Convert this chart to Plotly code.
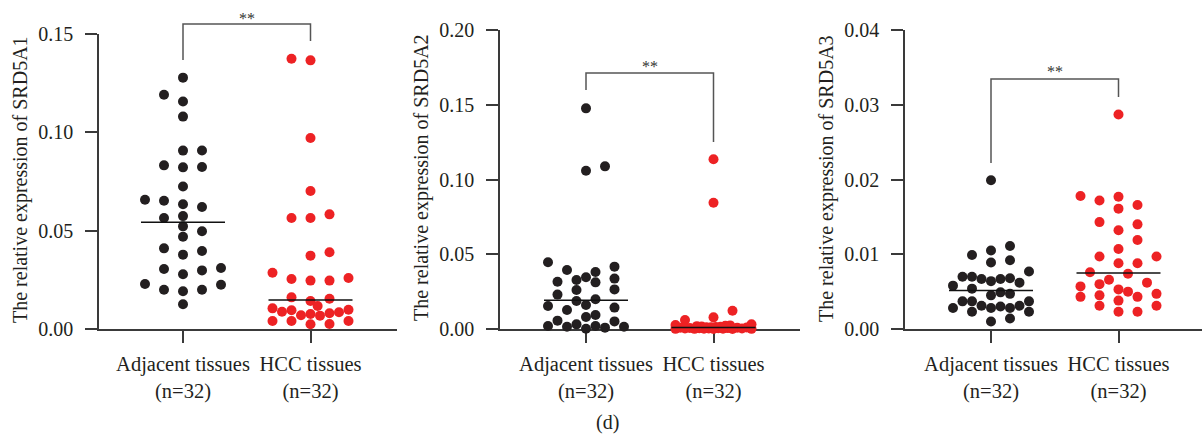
import numpy as np
import plotly.graph_objects as go

# ---------------- data ----------------
categories = ["Adjacent tissues<br>(n=32)", "HCC tissues<br>(n=32)"]
genes = ["SRD5A1", "SRD5A2", "SRD5A3"]
y_max = [0.15, 0.20, 0.04]
y_dtick = [0.05, 0.05, 0.01]
significance = ["**", "**", "**"]

srd5a1_adjacent = [0.1278, 0.1191, 0.1157, 0.1080, 0.0908, 0.0907, 0.0824, 0.0832,
                   0.0822, 0.0725, 0.0652, 0.0634, 0.0620, 0.0657, 0.0574, 0.0564,
                   0.0522, 0.0497, 0.0469, 0.0397, 0.0410, 0.0378, 0.0298, 0.0305,
                   0.0278, 0.0310, 0.0225, 0.0200, 0.0192, 0.0200, 0.0229, 0.0126]
srd5a1_hcc = [0.1374, 0.1366, 0.0971, 0.0702, 0.0583, 0.0564, 0.0564, 0.0373,
              0.0390, 0.0286, 0.0254, 0.0246, 0.0246, 0.0259, 0.0142, 0.0154,
              0.0161, 0.0080, 0.0088, 0.0076, 0.0098, 0.0117, 0.0095, 0.0085,
              0.0105, 0.0068, 0.0070, 0.0041, 0.0041, 0.0024, 0.0041, 0.0025]

srd5a2_adjacent = [0.1476, 0.1088, 0.1059, 0.0446, 0.0381, 0.0395, 0.0417, 0.0316,
                   0.0312, 0.0337, 0.0328, 0.0346, 0.0265, 0.0261, 0.0230, 0.0199,
                   0.0187, 0.0143, 0.0160, 0.0127, 0.0154, 0.0094, 0.0080, 0.0056,
                   0.0051, 0.0015, 0.0020, 0.0002, 0.0031, 0.0015, 0.0020, 0.0009]
srd5a2_hcc = [0.1135, 0.0845, 0.0122, 0.0078, 0.0060, 0.0031, 0.0027, 0.0024,
              0.0021, 0.0019, 0.0017, 0.0015, 0.0014, 0.0012, 0.0011, 0.0010,
              0.0009, 0.0008, 0.0007, 0.0006, 0.0005, 0.0005, 0.0004, 0.0003,
              0.0003, 0.0002, 0.0002, 0.0001, 0.0001, 0.0001, 0.0000, 0.0000]

srd5a3_adjacent = [0.0199, 0.0111, 0.0105, 0.0099, 0.0089, 0.0092, 0.0077, 0.0070,
                   0.0067, 0.0067, 0.0064, 0.0068, 0.0070, 0.0058, 0.0062, 0.0054,
                   0.0045, 0.0047, 0.0049, 0.0037, 0.0037, 0.0037, 0.0031, 0.0028,
                   0.0028, 0.0030, 0.0031, 0.0028, 0.0023, 0.0023, 0.0014, 0.0010]
srd5a3_hcc = [0.0287, 0.0178, 0.0166, 0.0177, 0.0172, 0.0161, 0.0140, 0.0143,
              0.0132, 0.0119, 0.0107, 0.0097, 0.0088, 0.0088, 0.0097, 0.0074,
              0.0076, 0.0060, 0.0062, 0.0057, 0.0066, 0.0047, 0.0053, 0.0045,
              0.0043, 0.0043, 0.0050, 0.0038, 0.0031, 0.0031, 0.0023, 0.0023]

series = [(srd5a1_adjacent, srd5a1_hcc), (srd5a2_adjacent, srd5a2_hcc), (srd5a3_adjacent, srd5a3_hcc)]

# ---------------- layout / style ----------------
W, H = 1202, 434
FONT = "Liberation Serif, Times New Roman, serif"
TXT = "#231f20"
AX = "#3a3a3a"
colors = ["#231f20", "#ed2224"]
DOT = 10.0          # marker diameter px
STEP = 9.5          # swarm column spacing px
MAXCOL = 4
UNIT = 127.5        # px between the two category centres

# panel geometry in pixels: y-axis x, x-axis right end, y of zero, y of top tick
panels = [dict(ax=99, right=397, c0=183, y0=329, ytop=34,
               br=(24, 60, 41), star=15, title=(20, 180)),
          dict(ax=500, right=800, c0=586, y0=329, ytop=30,
               br=(73, 90, 142), star=63, title=(421, 178)),
          dict(ax=905, right=1202, c0=991, y0=329, ytop=30,
               br=(79, 163, 97), star=69, title=(826, 178))]


def swarm(values, px_per_val):
    """Prism-like column scatter: integer column slots, prefer a free gap
    between neighbours, then touching neighbours, then least overlap."""
    vals = np.asarray(values, dtype=float)
    ypx = vals * px_per_val
    order = np.argsort(vals, kind="stable")
    placed = {c: [] for c in range(-MAXCOL - 1, MAXCOL + 2)}
    pts = []  # (x_px, y_px) of everything placed
    xs = np.zeros(len(vals))

    def clash(c, y):
        return any(abs(y - p) < DOT for p in placed[c])

    for i in order:
        y = ypx[i]
        cand = [0]
        for k in range(1, MAXCOL + 1):
            if len(placed[k]) <= len(placed[-k]):
                cand += [k, -k]
            else:
                cand += [-k, k]
        x = None
        for c in cand:  # pass 1: keep an empty slot to each side
            if not (clash(c, y) or clash(c - 1, y) or clash(c + 1, y)):
                x = c * STEP
                placed[c].append(y)
                break
        if x is None:  # pass 2: neighbours may touch
            for c in cand:
                if not clash(c, y):
                    x = c * STEP
                    placed[c].append(y)
                    break
        if x is None:  # pass 3: free position with least overlap
            fine = np.linspace(-MAXCOL * STEP, MAXCOL * STEP, 4 * 2 * MAXCOL + 1)
            fine = sorted(fine, key=abs)
            x = max(fine, key=lambda fx: min(np.hypot(fx - px, y - py) for px, py in pts))
        pts.append((x, y))
        xs[i] = x
    return xs


fig = go.Figure()
shapes, annotations = [], []
layout_axes = {}

for p_i, (spec, (adj, hcc)) in enumerate(zip(panels, series)):
    n = p_i + 1
    xa = "x" if n == 1 else f"x{n}"
    ya = "y" if n == 1 else f"y{n}"
    plot_h = spec["y0"] - spec["ytop"]
    px_per_val = plot_h / y_max[p_i]
    x_lo = -(spec["c0"] - spec["ax"]) / UNIT
    x_hi = x_lo + (spec["right"] - spec["ax"]) / UNIT

    for g, vals in enumerate([adj, hcc]):
        offs = swarm(vals, px_per_val) / UNIT
        fig.add_trace(go.Scatter(
            x=g + offs, y=vals, mode="markers", xaxis=xa, yaxis=ya,
            marker=dict(size=DOT, color=colors[g], line=dict(width=0)),
            cliponaxis=False, showlegend=False, hoverinfo="y"))
    for g, vals in enumerate([adj, hcc]):
        med = float(np.median(vals))
        fig.add_trace(go.Scatter(
            x=[g - 42 / UNIT, g + 42 / UNIT], y=[med, med], mode="lines",
            xaxis=xa, yaxis=ya, line=dict(color="#111111", width=1.5),
            cliponaxis=False, showlegend=False, hoverinfo="skip"))

    xkey = "xaxis" if n == 1 else f"xaxis{n}"
    ykey = "yaxis" if n == 1 else f"yaxis{n}"
    layout_axes[xkey] = dict(
        domain=[spec["ax"] / W, spec["right"] / W], range=[x_lo, x_hi],
        anchor=ya, tickvals=[0, 1], ticktext=categories, automargin=False,
        ticks="outside", ticklen=12, tickwidth=1.5, tickcolor=AX,
        showline=True, linecolor=AX, linewidth=1.5, showgrid=False, zeroline=False,
        layer="below traces", ticklabelstandoff=4,
        tickfont=dict(family=FONT, size=20.5, color=TXT), fixedrange=True)
    layout_axes[ykey] = dict(
        domain=[1 - spec["y0"] / H, 1 - spec["ytop"] / H], range=[0, y_max[p_i]],
        anchor=xa, tick0=0, dtick=y_dtick[p_i], tickformat=".2f", automargin=False,
        ticks="outside", ticklen=12, tickwidth=1.5, tickcolor=AX,
        showline=True, linecolor=AX, linewidth=1.5, showgrid=False, zeroline=False,
        ticklabelstandoff=8,
        tickfont=dict(family=FONT, size=20, color=TXT), fixedrange=True)

    top, lb, rb = spec["br"]
    shapes.append(dict(
        type="path", xref=xa, yref="paper",
        path=f"M 0,{1 - lb / H} L 0,{1 - top / H} L 1,{1 - top / H} L 1,{1 - rb / H}",
        line=dict(color="#555555", width=1.5)))
    annotations.append(dict(
        x=0.5, xref=xa, y=1 - (spec["star"] + 3) / H, yref="paper",
        text=significance[p_i], showarrow=False, xanchor="center", yanchor="middle",
        font=dict(family=FONT, size=16, color="#333333")))
    tx, ty = spec["title"]
    annotations.append(dict(
        x=tx / W, y=1 - ty / H, xref="paper", yref="paper", textangle=-90,
        text=f"The relative expression of {genes[p_i]}", showarrow=False,
        xanchor="center", yanchor="middle",
        font=dict(family=FONT, size=20, color=TXT)))

annotations.append(dict(x=607 / W, y=1 - 422 / H, xref="paper", yref="paper",
                        text="(d)", showarrow=False, xanchor="center", yanchor="middle",
                        font=dict(family=FONT, size=20, color=TXT)))

fig.update_layout(
    width=W, height=H, margin=dict(l=0, r=0, t=0, b=0, autoexpand=False),
    paper_bgcolor="white", plot_bgcolor="white",
    shapes=shapes, annotations=annotations, **layout_axes)

fig.write_html("out.html", config={"displayModeBar": False})
